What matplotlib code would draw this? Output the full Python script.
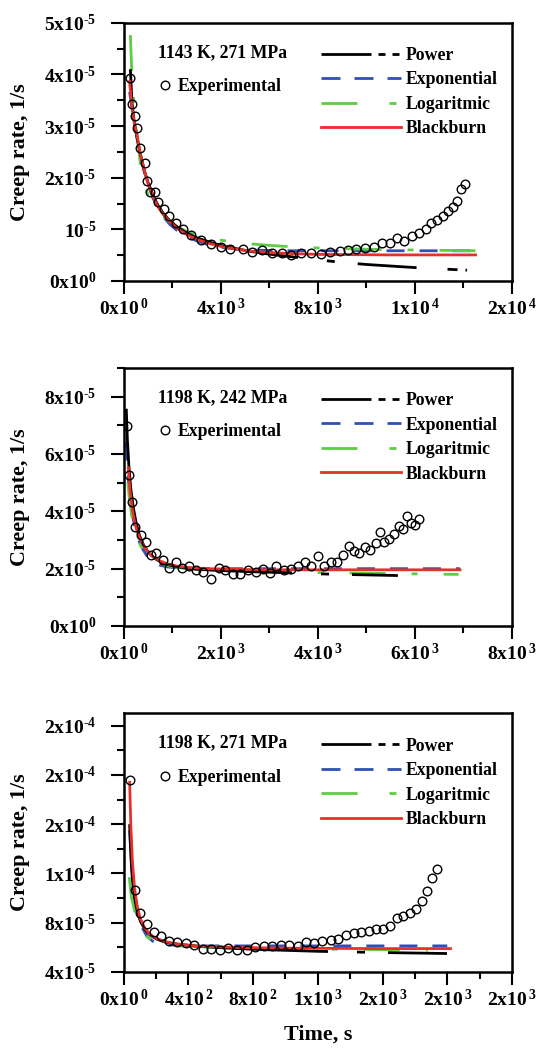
import matplotlib
matplotlib.use('Agg')
import matplotlib.pyplot as plt
from matplotlib.lines import Line2D
from matplotlib.ticker import MultipleLocator, FixedLocator

plt.rcParams['font.family'] = 'Liberation Serif'
plt.rcParams['font.weight'] = 'bold'
plt.rcParams['mathtext.fontset'] = 'custom'
plt.rcParams['mathtext.rm'] = 'Liberation Serif:bold'
plt.rcParams['mathtext.it'] = 'Liberation Serif:bold'
plt.rcParams['mathtext.bf'] = 'Liberation Serif:bold'
plt.rcParams['lines.scale_dashes'] = False

HY = '\u2010'  # short hyphen used in exponents

# ---------------- Panel 1: 1143 K, 271 MPa ----------------
p1_title = "1143 K, 271 MPa"
p1_exp_t = [283, 353, 466, 565, 678, 876, 961, 1088, 1300, 1441, 1653, 1865,
            2150, 2450, 2800, 3200, 3600, 4027, 4380,
            4903, 5285, 5723, 6104, 6528, 6896, 7305, 7729, 8125, 8520, 8902,
            9227, 9594, 9948, 10315, 10654, 10979, 11276, 11559, 11884, 12181,
            12449, 12675, 12915, 13141, 13353, 13551, 13735, 13904, 14060]
p1_exp_r = [3.92, 3.42, 3.19, 2.97, 2.57, 2.28, 1.94, 1.72, 1.73, 1.52, 1.39, 1.25,
            1.12, 1.00, 0.90, 0.80, 0.72, 0.665, 0.613,
            0.613, 0.568, 0.600, 0.548, 0.535, 0.503, 0.548, 0.535, 0.523, 0.568, 0.587,
            0.600, 0.619, 0.645, 0.665, 0.729, 0.729, 0.826, 0.774, 0.877, 0.923,
            1.00, 1.129, 1.181, 1.258, 1.355, 1.439, 1.555, 1.774, 1.871]
p1_pow_t = [283, 350, 450, 565, 700, 850, 1000, 1200, 1400, 1650, 1900, 2200, 2600,
            3000, 3500, 4000, 4600, 5200, 6000, 7000, 8000, 9000, 10000, 11000,
            12000, 13000, 14150]
p1_pow_r = [4.10, 3.45, 3.05, 2.75, 2.45, 2.15, 1.92, 1.68, 1.48, 1.30, 1.17, 1.05, 0.93,
            0.84, 0.76, 0.69, 0.63, 0.575, 0.52, 0.465, 0.41, 0.36, 0.32, 0.29,
            0.26, 0.235, 0.21]
p1_exp_fit_t = [250, 350, 450, 565, 700, 850, 1000, 1200, 1400, 1650, 1900, 2200, 2600,
                3000, 3500, 4000, 4600, 5200, 6000, 7000, 8000, 10000, 12000, 14500]
p1_exp_fit_r = [3.66, 3.35, 3.05, 2.75, 2.42, 2.12, 1.88, 1.62, 1.42, 1.24, 1.10, 0.98, 0.86,
                0.78, 0.70, 0.655, 0.62, 0.60, 0.59, 0.585, 0.585, 0.585, 0.585, 0.585]
p1_log_t = [283, 350, 450, 565, 700, 850, 1000, 1200, 1400, 1650, 1900, 2200, 2600,
            3000, 3500, 4000, 4600, 5200, 6000, 7000, 8000, 10000, 12000, 14500]
p1_log_r = [4.76, 3.95, 3.30, 2.80, 2.25, 1.90, 1.68, 1.50, 1.38, 1.25, 1.15, 1.05, 0.96,
            0.90, 0.84, 0.79, 0.75, 0.72, 0.69, 0.66, 0.64, 0.615, 0.60, 0.585]
p1_bb_t = [250, 350, 450, 565, 700, 850, 1000, 1200, 1400, 1650, 1900, 2200, 2600,
           3000, 3500, 4000, 4600, 5200, 6000, 7000, 8000, 9500, 11000, 12500, 14500]
p1_bb_r = [3.86, 3.35, 3.05, 2.80, 2.45, 2.15, 1.90, 1.65, 1.45, 1.28, 1.15, 1.02, 0.90,
           0.81, 0.73, 0.67, 0.62, 0.58, 0.55, 0.53, 0.515, 0.51, 0.505, 0.505, 0.505]
p1_scale = 1e-5
p1_xticks = [0, 4000, 8000, 12000, 16000]
p1_xticklabels = [r'$0\mathrm{x}10^{\,0}$', r'$4\mathrm{x}10^{\,3}$', r'$8\mathrm{x}10^{\,3}$',
                  r'$1\mathrm{x}10^{\,4}$', r'$2\mathrm{x}10^{\,4}$']
p1_yticks = [0, 1e-5, 2e-5, 3e-5, 4e-5, 5e-5]
p1_yticklabels = [r'$0\mathrm{x}10^{0}$', r'$10^{%s5}$' % HY, r'$2\mathrm{x}10^{%s5}$' % HY,
                  r'$3\mathrm{x}10^{%s5}$' % HY, r'$4\mathrm{x}10^{%s5}$' % HY,
                  r'$5\mathrm{x}10^{%s5}$' % HY]

# ---------------- Panel 2: 1198 K, 242 MPa ----------------
p2_title = "1198 K, 242 MPa"
p2_exp_t = [71, 120, 177, 247, 353, 460, 566, 672, 813, 933, 1075, 1202, 1343, 1499,
            1640, 1796, 1958, 2100, 2248, 2404, 2559, 2722, 2870, 3012, 3146, 3295,
            3450, 3592, 3733, 3853, 4002, 4122, 4263, 4398, 4525, 4638, 4737, 4857,
            4970, 5076, 5196, 5281, 5373, 5465, 5571, 5670, 5748, 5833, 5918, 5995, 6080]
p2_exp_r = [6.97, 5.25, 4.31, 3.45, 3.18, 2.92, 2.48, 2.54, 2.31, 2.02, 2.22, 2.02, 2.10, 1.96,
            1.90, 1.63, 2.02, 1.94, 1.82, 1.82, 1.94, 1.88, 1.98, 1.84, 2.11, 1.94,
            1.98, 2.08, 2.23, 2.08, 2.43, 2.11, 2.22, 2.22, 2.48, 2.80, 2.60, 2.54,
            2.75, 2.64, 2.89, 3.27, 2.92, 3.03, 3.22, 3.48, 3.38, 3.83, 3.59, 3.53, 3.73]
p2_pow_t = [57, 80, 110, 150, 200, 260, 330, 420, 520, 650, 800, 1000, 1250, 1500,
            1800, 2200, 2700, 3300, 4000, 4800, 5650]
p2_pow_r = [7.58, 6.5, 5.6, 4.8, 4.15, 3.6, 3.15, 2.8, 2.55, 2.35, 2.2, 2.1, 2.03, 1.98,
            1.95, 1.92, 1.89, 1.86, 1.82, 1.79, 1.76]
p2_exp_fit_t = [60, 90, 130, 180, 240, 310, 390, 480, 600, 750, 900, 1100, 1400, 1800,
                2400, 3200, 4200, 5500, 6930]
p2_exp_fit_r = [6.4, 5.3, 4.5, 3.9, 3.4, 3.0, 2.7, 2.45, 2.25, 2.12, 2.06, 2.03, 2.01, 2.0,
                2.0, 2.0, 2.0, 2.0, 2.0]
p2_log_t = [90, 120, 160, 210, 270, 340, 420, 520, 650, 800, 1000, 1300, 1700, 2200,
            2800, 3500, 4500, 5500, 6900]
p2_log_r = [5.0, 4.45, 3.95, 3.5, 3.15, 2.85, 2.6, 2.4, 2.25, 2.15, 2.07, 2.0, 1.96, 1.93,
            1.9, 1.88, 1.85, 1.83, 1.80]
p2_bb_t = [100, 130, 170, 220, 280, 350, 430, 520, 620, 750, 900, 1100, 1350, 1700,
           2200, 2800, 3500, 4500, 5500, 6930]
p2_bb_r = [5.52, 4.8, 4.2, 3.7, 3.3, 3.0, 2.75, 2.55, 2.4, 2.27, 2.17, 2.09, 2.04, 2.0,
           1.98, 1.96, 1.96, 1.96, 1.96, 1.96]
p2_scale = 1e-5
p2_xticks = [0, 2000, 4000, 6000, 8000]
p2_xticklabels = [r'$0\mathrm{x}10^{\,0}$', r'$2\mathrm{x}10^{\,3}$', r'$4\mathrm{x}10^{\,3}$',
                  r'$6\mathrm{x}10^{\,3}$', r'$8\mathrm{x}10^{\,3}$']
p2_yticks = [0, 2e-5, 4e-5, 6e-5, 8e-5]
p2_yticklabels = [r'$0\mathrm{x}10^{0}$', r'$2\mathrm{x}10^{%s5}$' % HY,
                  r'$4\mathrm{x}10^{%s5}$' % HY, r'$6\mathrm{x}10^{%s5}$' % HY,
                  r'$8\mathrm{x}10^{%s5}$' % HY]

# ---------------- Panel 3: 1198 K, 271 MPa ----------------
p3_title = "1198 K, 271 MPa"
p3_exp_t = [38, 68, 102, 144, 191, 234, 282, 333, 387, 435, 489, 542, 595, 648, 701,
            760, 811, 867, 920, 973, 1024, 1079, 1126, 1179, 1228, 1279, 1328, 1376,
            1423, 1470, 1514, 1557, 1604, 1646, 1689, 1727, 1769, 1806, 1842, 1876,
            1905, 1939]
p3_exp_r = [19.59, 10.67, 8.76, 7.86, 7.27, 6.94, 6.50, 6.45, 6.37, 6.18, 5.85, 5.85, 5.77,
            5.96, 5.77, 5.77, 6.04, 6.12, 6.12, 6.23, 6.23, 6.10, 6.45, 6.37, 6.50, 6.58,
            6.67, 6.99, 7.13, 7.21, 7.32, 7.46, 7.46, 7.76, 8.35, 8.57, 8.76, 9.12, 9.77,
            10.59, 11.62, 12.35]
p3_pow_t = [38, 45, 55, 68, 85, 105, 130, 160, 200, 250, 310, 380, 460, 560, 700, 900,
            1200, 1600, 2000]
p3_pow_r = [16.0, 13.5, 11.5, 10.0, 8.9, 8.1, 7.5, 7.05, 6.7, 6.45, 6.3, 6.2, 6.1, 6.0,
            5.9, 5.8, 5.68, 5.58, 5.5]
p3_exp_fit_t = [38, 50, 68, 90, 115, 145, 180, 230, 290, 360, 450, 600, 800, 1100,
                1500, 2000]
p3_exp_fit_r = [15.5, 12.5, 10.5, 8.8, 7.6, 6.9, 6.5, 6.3, 6.2, 6.15, 6.12, 6.12, 6.12,
                6.12, 6.12, 6.12]
p3_log_t = [35, 50, 68, 90, 115, 145, 180, 230, 290, 360, 450, 600, 800, 1000, 1300,
            1600, 1880]
p3_log_r = [11.7, 10.0, 9.0, 8.0, 7.3, 6.85, 6.55, 6.35, 6.2, 6.1, 6.05, 6.0, 5.95, 5.9,
            5.85, 5.82, 5.78]
p3_bb_t = [38, 45, 55, 68, 85, 105, 130, 160, 200, 250, 310, 380, 460, 560, 700, 900,
           1200, 1600, 2020]
p3_bb_r = [19.4, 16.0, 13.0, 10.8, 9.3, 8.3, 7.6, 7.1, 6.75, 6.5, 6.3, 6.2, 6.1, 6.05,
           6.0, 5.95, 5.92, 5.9, 5.9]
p3_scale = 1e-5
p3_xticks = [0, 400, 800, 1200, 1600, 2000, 2400]
p3_xticklabels = [r'$0\mathrm{x}10^{\,0}$', r'$4\mathrm{x}10^{\,2}$', r'$8\mathrm{x}10^{\,2}$',
                  r'$1\mathrm{x}10^{\,3}$', r'$2\mathrm{x}10^{\,3}$', r'$2\mathrm{x}10^{\,3}$',
                  r'$2\mathrm{x}10^{\,3}$']
p3_yticks = [4e-5, 8e-5, 1.2e-4, 1.6e-4, 2.0e-4, 2.4e-4]
p3_yticklabels = [r'$4\mathrm{x}10^{%s5}$' % HY, r'$8\mathrm{x}10^{%s5}$' % HY,
                  r'$1\mathrm{x}10^{%s4}$' % HY, r'$2\mathrm{x}10^{%s4}$' % HY,
                  r'$2\mathrm{x}10^{%s4}$' % HY, r'$2\mathrm{x}10^{%s4}$' % HY]

fit_labels = ["Power", "Exponential", "Logaritmic", "Blackburn"]
exp_label = "Experimental"

# styles
C_BLACK = '#000000'
C_BLUE = '#2f4fb5'
C_GREEN = '#5fcc45'
C_RED = '#e8302a'
PX = 0.72  # points per pixel at 100 dpi
POW_DASH = (0, [v * PX for v in [295, 29, 8, 23, 59, 31, 10, 8, 2, 40]])
EXP_DASH = (0, [v * PX for v in [18, 15]])
LOG_DASH = (0, [v * PX for v in [36, 26, 6, 26]])
POW_DASH_LEG = (0, [v * PX for v in [50, 7, 7, 7, 7, 7]])
EXP_DASH_LEG = (0, [v * PX for v in [19, 14]])
LOG_DASH_LEG = (0, [v * PX for v in [36, 32, 7, 10]])
LW = 2.0
MS = 6.2
FS_TICK = 14
FS_TEXT = 12.8
FS_LABEL = 15.8

fig = plt.figure(figsize=(5.38, 10.49), dpi=100)

W, H = 538.0, 1049.0
AX_L, AX_R = 123.5, 512.0
panels = [
    dict(box=(AX_L, AX_R, 22.7, 281), title=p1_title, exp=(p1_exp_t, p1_exp_r),
         pw=(p1_pow_t, p1_pow_r), ex=(p1_exp_fit_t, p1_exp_fit_r), lg=(p1_log_t, p1_log_r),
         bb=(p1_bb_t, p1_bb_r), sc=p1_scale, xlim=(0, 16000), ylim=(0, 5e-5),
         xt=p1_xticks, xtl=p1_xticklabels, xminor=2000,
         yt=p1_yticks, ytl=p1_yticklabels, yminor=0.5e-5),
    dict(box=(AX_L, AX_R, 368, 626), title=p2_title, exp=(p2_exp_t, p2_exp_r),
         pw=(p2_pow_t, p2_pow_r), ex=(p2_exp_fit_t, p2_exp_fit_r), lg=(p2_log_t, p2_log_r),
         bb=(p2_bb_t, p2_bb_r), sc=p2_scale, xlim=(0, 8000), ylim=(0, 9e-5),
         xt=p2_xticks, xtl=p2_xticklabels, xminor=1000,
         yt=p2_yticks, ytl=p2_yticklabels, yminor=1e-5),
    dict(box=(AX_L, AX_R, 713.3, 972), title=p3_title, exp=(p3_exp_t, p3_exp_r),
         pw=(p3_pow_t, p3_pow_r), ex=(p3_exp_fit_t, p3_exp_fit_r), lg=(p3_log_t, p3_log_r),
         bb=(p3_bb_t, p3_bb_r), sc=p3_scale, xlim=(0, 2400), ylim=(4e-5, 2.5e-4),
         xt=p3_xticks, xtl=p3_xticklabels, xminor=200,
         yt=p3_yticks, ytl=p3_yticklabels, yminor=2e-5),
]

for i, p in enumerate(panels):
    l, r, t, b = p['box']
    ax = fig.add_axes([l / W, 1 - b / H, (r - l) / W, (b - t) / H])
    sc = p['sc']
    ax.plot(p['ex'][0], [v * sc for v in p['ex'][1]], color=C_BLUE, lw=LW, linestyle=EXP_DASH, zorder=2)
    ax.plot(p['lg'][0], [v * sc for v in p['lg'][1]], color=C_GREEN, lw=LW, linestyle=LOG_DASH, zorder=2.1)
    ax.plot(p['pw'][0], [v * sc for v in p['pw'][1]], color=C_BLACK, lw=LW, linestyle=POW_DASH, zorder=2.2)
    ax.plot(p['bb'][0], [v * sc for v in p['bb'][1]], color=C_RED, lw=LW, linestyle='-', zorder=2.3)
    ax.plot(p['exp'][0], [v * sc for v in p['exp'][1]], linestyle='none', marker='o',
            ms=MS, mfc='none', mec='black', mew=1.0, zorder=3)

    ax.set_xlim(*p['xlim'])
    ax.set_ylim(*p['ylim'])
    ax.xaxis.set_major_locator(FixedLocator(p['xt']))
    ax.set_xticklabels(p['xtl'])
    ax.xaxis.set_minor_locator(MultipleLocator(p['xminor']))
    ax.yaxis.set_major_locator(FixedLocator(p['yt']))
    ax.set_yticklabels(p['ytl'])
    ax.yaxis.set_minor_locator(MultipleLocator(p['yminor']))
    ax.tick_params(which='both', direction='out', width=1.5, top=False, right=False)
    ax.tick_params(which='major', length=9.5)
    ax.tick_params(which='minor', length=5)
    ax.tick_params(axis='x', which='major', labelsize=FS_TICK, pad=3)
    ax.tick_params(axis='y', which='major', labelsize=FS_TICK, pad=10)
    for s in ax.spines.values():
        s.set_linewidth(1.8)

    ax.set_ylabel("Creep rate, 1/s", fontsize=FS_LABEL, fontweight='bold')
    ax.yaxis.set_label_coords(-0.24, 0.5)
    if i == 2:
        ax.set_xlabel("Time, s", fontsize=FS_LABEL, fontweight='bold')
        ax.xaxis.set_label_coords(0.5, -0.205)

    ax.text(0.089, 0.885, p['title'], transform=ax.transAxes, fontsize=FS_TEXT,
            fontweight='bold', va='center', ha='left')

    exp_handle = Line2D([], [], linestyle='none', marker='o', ms=MS, mfc='none',
                        mec='black', mew=1.0)
    leg1 = ax.legend([exp_handle], [exp_label], loc='center left',
                     bbox_to_anchor=(0.089, 0.752), frameon=False, fontsize=FS_TEXT,
                     handlelength=0.8, handletextpad=0.3, borderpad=0, borderaxespad=0)
    ax.add_artist(leg1)

    h_pow = Line2D([], [], color=C_BLACK, lw=LW, linestyle=POW_DASH_LEG)
    h_exp = Line2D([], [], color=C_BLUE, lw=LW, linestyle=EXP_DASH_LEG)
    h_log = Line2D([], [], color=C_GREEN, lw=LW, linestyle=LOG_DASH_LEG)
    h_bb = Line2D([], [], color=C_RED, lw=LW, linestyle='-')
    ax.legend([h_pow, h_exp, h_log, h_bb], fit_labels, loc='upper left',
              bbox_to_anchor=(0.508, 0.906), frameon=False, fontsize=FS_TEXT,
              handlelength=4.5, handletextpad=0.3, labelspacing=0.42,
              borderpad=0, borderaxespad=0)

fig.savefig('out.png', dpi=100)
